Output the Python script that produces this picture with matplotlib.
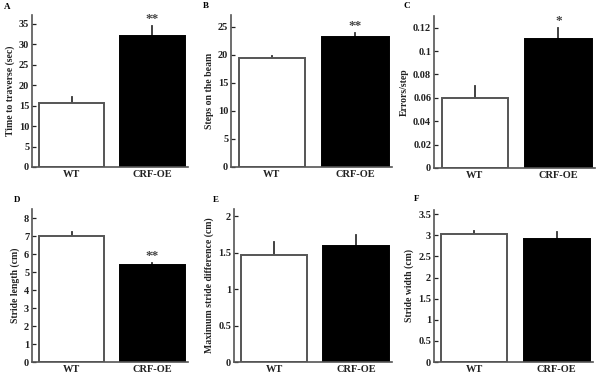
import matplotlib
matplotlib.use('Agg')
import matplotlib.pyplot as plt

plt.rcParams['font.family'] = ['Liberation Serif', 'DejaVu Serif']
plt.rcParams['font.weight'] = 'bold'

groups = ['WT', 'CRF-OE']

time_mean = [15.6, 32.1]
time_err = [1.6, 2.4]
steps_mean = [19.5, 23.2]
steps_err = [0.3, 0.7]
errors_mean = [0.060, 0.110]
errors_err = [0.010, 0.010]
length_mean = [7.0, 5.4]
length_err = [0.2, 0.1]
diff_mean = [1.47, 1.59]
diff_err = [0.18, 0.15]
width_mean = [3.04, 2.92]
width_err = [0.07, 0.15]

ylabels = ['Time to traverse (sec)', 'Steps on the beam', 'Errors/step',
           'Stride length (cm)', 'Maximum stride difference (cm)', 'Stride width (cm)']
letters = ['A', 'B', 'C', 'D', 'E', 'F']
stars = ['**', '**', '*', '**', '', '']
ylims = [37.2, 27.1, 0.13, 8.5, 2.1, 3.6]
yticks = [range(0, 36, 5), range(0, 26, 5), [0, 0.02, 0.04, 0.06, 0.08, 0.1, 0.12],
          range(0, 9), [0, 0.5, 1, 1.5, 2], [0, 0.5, 1, 1.5, 2, 2.5, 3, 3.5]]
ticklabels = [None, None, ['0', '0.02', '0.04', '0.06', '0.08', '0.1', '0.12'],
              None, ['0', '0.5', '1', '1.5', '2'], ['0', '0.5', '1', '1.5', '2', '2.5', '3', '3.5']]
means = [time_mean, steps_mean, errors_mean, length_mean, diff_mean, width_mean]
errs = [time_err, steps_err, errors_err, length_err, diff_err, width_err]

W, H = 601, 375
# axes boxes in pixels: left, right, top, bottom
boxes = [(32, 188, 15, 167), (231, 392, 15, 167), (434, 595, 16, 168),
         (32, 188, 209, 362), (234, 392, 209, 362), (434, 593, 210, 362)]
letter_pos = [(4, 7), (203, 6), (403, 6), (14, 200), (213, 200), (414, 199)]

fig = plt.figure(figsize=(W / 100, H / 100), dpi=100)
for i in range(6):
    l, r, t, b = boxes[i]
    ax = fig.add_axes([l / W, 1 - b / H, (r - l) / W, (b - t) / H])
    x = [0, 1]
    ax.bar(x, means[i], width=0.8, color=['white', 'black'],
           edgecolor=['#555555', 'black'], linewidth=1.4, zorder=2)
    for xi, m, e in zip(x, means[i], errs[i]):
        ax.plot([xi, xi], [m, m + e], color='#333333', lw=1.3, zorder=1)
    if stars[i]:
        top = means[i][1] + errs[i][1]
        ax.text(1, top + ylims[i] * 0.005, stars[i], ha='center', va='bottom',
                fontsize=9.5, fontweight='bold', color='#444444')
    ax.set_xlim(-0.49, 1.44)
    ax.set_ylim(0, ylims[i])
    ax.set_yticks(list(yticks[i]))
    if ticklabels[i]:
        ax.set_yticklabels(ticklabels[i])
    ax.set_xticks(x)
    ax.set_xticklabels(groups)
    ax.tick_params(axis='y', direction='in', length=3, width=0.9, labelsize=7.5, pad=2, colors='#222222')
    ax.tick_params(axis='x', length=0, labelsize=7.5, pad=2, colors='#222222')
    for lab in ax.get_xticklabels() + ax.get_yticklabels():
        lab.set_fontweight('bold')
    ax.spines['top'].set_visible(False)
    ax.spines['right'].set_visible(False)
    ax.spines['left'].set_color('#555555')
    ax.spines['bottom'].set_color('#555555')
    ax.spines['left'].set_linewidth(1.2)
    ax.spines['bottom'].set_linewidth(1.2)
    ax.set_ylabel(ylabels[i], fontsize=7, fontweight='bold', labelpad=3, color='#222222')
    lx, ly = letter_pos[i]
    fig.text(lx / W, 1 - ly / H, letters[i], fontsize=6.5, fontweight='bold', va='center', ha='left')

fig.savefig('out.png', dpi=100)
